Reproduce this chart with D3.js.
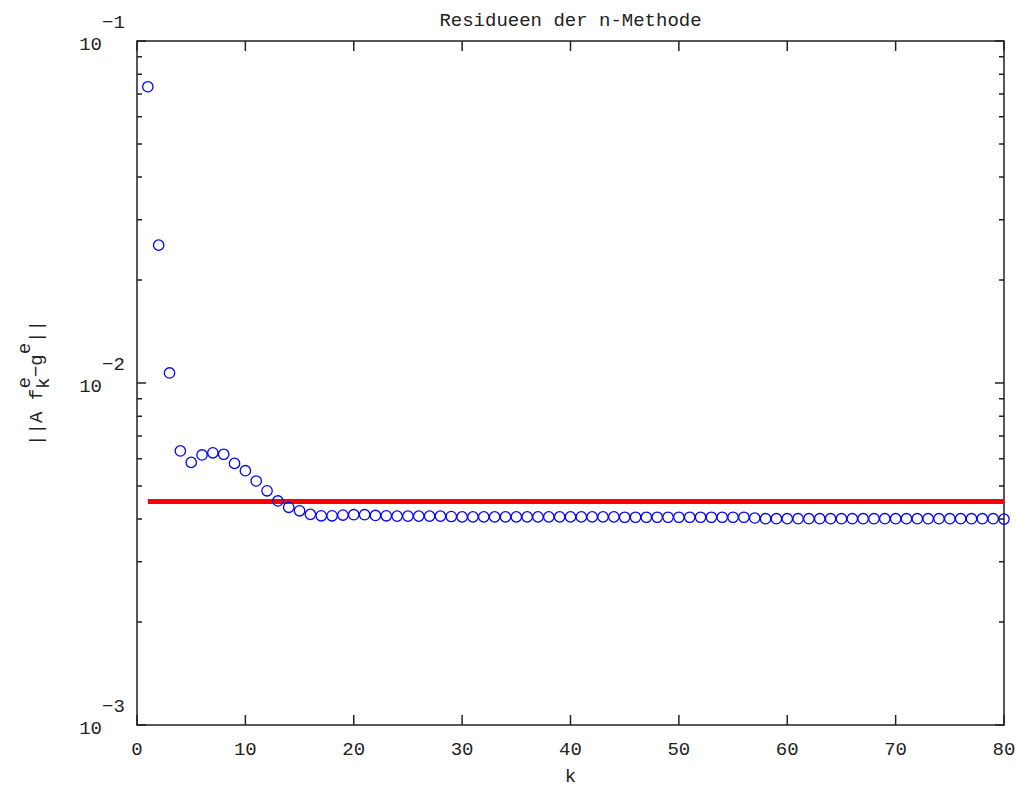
<!DOCTYPE html>
<html>
<head>
<meta charset="utf-8">
<script src="https://cdn.jsdelivr.net/npm/d3@7/dist/d3.min.js"></script>
<style>
  body { margin: 0; background: #fff; }
  text { font-family: "Liberation Mono", "DejaVu Sans Mono", monospace; fill: #222; }
</style>
</head>
<body>
<div id="chart"></div>
<script>
// residual norm per iteration k = 1..80
var residuals = [
    0.0735, 0.0253, 0.0107, 0.00633, 0.00586, 0.00616, 0.00625, 0.00619, 0.00582, 0.00554,
    0.00517, 0.00484, 0.00452, 0.00433, 0.00423, 0.00413, 0.00409, 0.00409, 0.00411, 0.00412,
    0.00412, 0.00410, 0.00409, 0.00408, 0.00408, 0.00408, 0.00408, 0.00408, 0.00407, 0.00406,
    0.00406, 0.00406, 0.00406, 0.00406, 0.00406, 0.00406, 0.00406, 0.00406, 0.00406, 0.00406,
    0.00406, 0.00406, 0.00406, 0.00406, 0.00405, 0.00405, 0.00405, 0.00405, 0.00405, 0.00405,
    0.00405, 0.00405, 0.00405, 0.00405, 0.00405, 0.00405, 0.00403, 0.00401, 0.00401, 0.00401,
    0.00401, 0.00401, 0.00401, 0.00401, 0.00401, 0.00401, 0.00401, 0.00401, 0.00401, 0.00401,
    0.00401, 0.00401, 0.00401, 0.00401, 0.00401, 0.00401, 0.00401, 0.00401, 0.00401, 0.00400
];
var iterations = residuals.map(function(d, i) { return i + 1; });

// red reference level
var levelRange = [1, 80];
var levelValue = 0.0045;

var xTicks = [0, 10, 20, 30, 40, 50, 60, 70, 80];
var yDecades = [-3, -2, -1];

var margin = {top: 41, right: 16, bottom: 64, left: 137},
    width = 1020 - margin.left - margin.right,
    height = 789 - margin.top - margin.bottom;

var x = d3.scaleLinear().domain([0, 80]).range([0, width]);
var y = d3.scaleLog().domain([1e-3, 1e-1]).range([height, 0]);

var svg = d3.select("#chart").append("svg")
    .attr("width", 1020)
    .attr("height", 789)
  .append("g")
    .attr("transform", "translate(" + margin.left + "," + margin.top + ")");

var axisColor = "#222";

// y ticks: majors at decades, minors 2..9
var yMinor = [];
yDecades.slice(0, -1).forEach(function(e) {
    for (var m = 2; m <= 9; m++) yMinor.push(m * Math.pow(10, e));
});

svg.selectAll(".ymin").data(yMinor).enter().append("path")
    .attr("d", function(d) {
        var yy = y(d);
        return "M0," + yy + "h5M" + width + "," + yy + "h-5";
    })
    .attr("stroke", axisColor).attr("stroke-width", 1.5);

svg.selectAll(".ymaj").data(yDecades).enter().append("path")
    .attr("d", function(d) {
        var yy = y(Math.pow(10, d));
        return "M0," + yy + "h9M" + width + "," + yy + "h-9";
    })
    .attr("stroke", axisColor).attr("stroke-width", 1.5);

svg.selectAll(".xmaj").data(xTicks).enter().append("path")
    .attr("d", function(d) {
        var xx = x(d);
        return "M" + xx + "," + height + "v-10M" + xx + ",0v10";
    })
    .attr("stroke", axisColor).attr("stroke-width", 1.5);

// frame
svg.append("rect")
    .attr("width", width).attr("height", height)
    .attr("fill", "none").attr("stroke", axisColor).attr("stroke-width", 1.5);

// y labels: base and exponent placed separately
svg.selectAll(".ylab").data(yDecades).enter().append("text")
    .attr("x", -35)
    .attr("y", function(d) { return y(Math.pow(10, d)) + 9; })
    .attr("text-anchor", "end")
    .style("font-size", "19px")
    .text("10");

svg.selectAll(".yexp").data(yDecades).enter().append("text")
    .attr("x", -35)
    .attr("y", function(d) { return y(Math.pow(10, d)) - 13; })
    .attr("text-anchor", "start")
    .style("font-size", "19px")
    .text(function(d) { return "\u2212" + Math.abs(d); });

// x labels
svg.selectAll(".xlab").data(xTicks).enter().append("text")
    .attr("x", function(d) { return x(d); })
    .attr("y", height + 30)
    .attr("text-anchor", "middle")
    .style("font-size", "19px")
    .text(function(d) { return d; });

// title and axis labels
svg.append("text")
    .attr("x", width / 2).attr("y", -15)
    .attr("text-anchor", "middle")
    .style("font-size", "19px")
    .text("Residueen der n-Methode");

svg.append("text")
    .attr("x", width / 2).attr("y", height + 57)
    .attr("text-anchor", "middle")
    .style("font-size", "19px")
    .text("k");

var yTitle = svg.append("text")
    .attr("transform", "translate(" + (-95) + "," + (y(1e-2)) + ") rotate(-90)")
    .attr("text-anchor", "middle")
    .style("font-size", "19px");
yTitle.append("tspan").text("||A f");
yTitle.append("tspan").attr("dy", 7).text("k");
yTitle.append("tspan").attr("dx", -11).attr("dy", -19).text("e");
yTitle.append("tspan").attr("dy", 12).text("\u2212g");
yTitle.append("tspan").attr("dy", -12).text("e");
yTitle.append("tspan").attr("dy", 12).text("||");

// reference level
svg.append("line")
    .attr("x1", x(levelRange[0])).attr("x2", x(levelRange[1]))
    .attr("y1", y(levelValue)).attr("y2", y(levelValue))
    .attr("stroke", "#ff0000").attr("stroke-width", 5);

// residual markers
svg.selectAll(".pt").data(residuals).enter().append("circle")
    .attr("cx", function(d, i) { return x(iterations[i]); })
    .attr("cy", function(d) { return y(d); })
    .attr("r", 5.2)
    .attr("fill", "none")
    .attr("stroke", "#0000ff")
    .attr("stroke-width", 1.3);
</script>
</body>
</html>
